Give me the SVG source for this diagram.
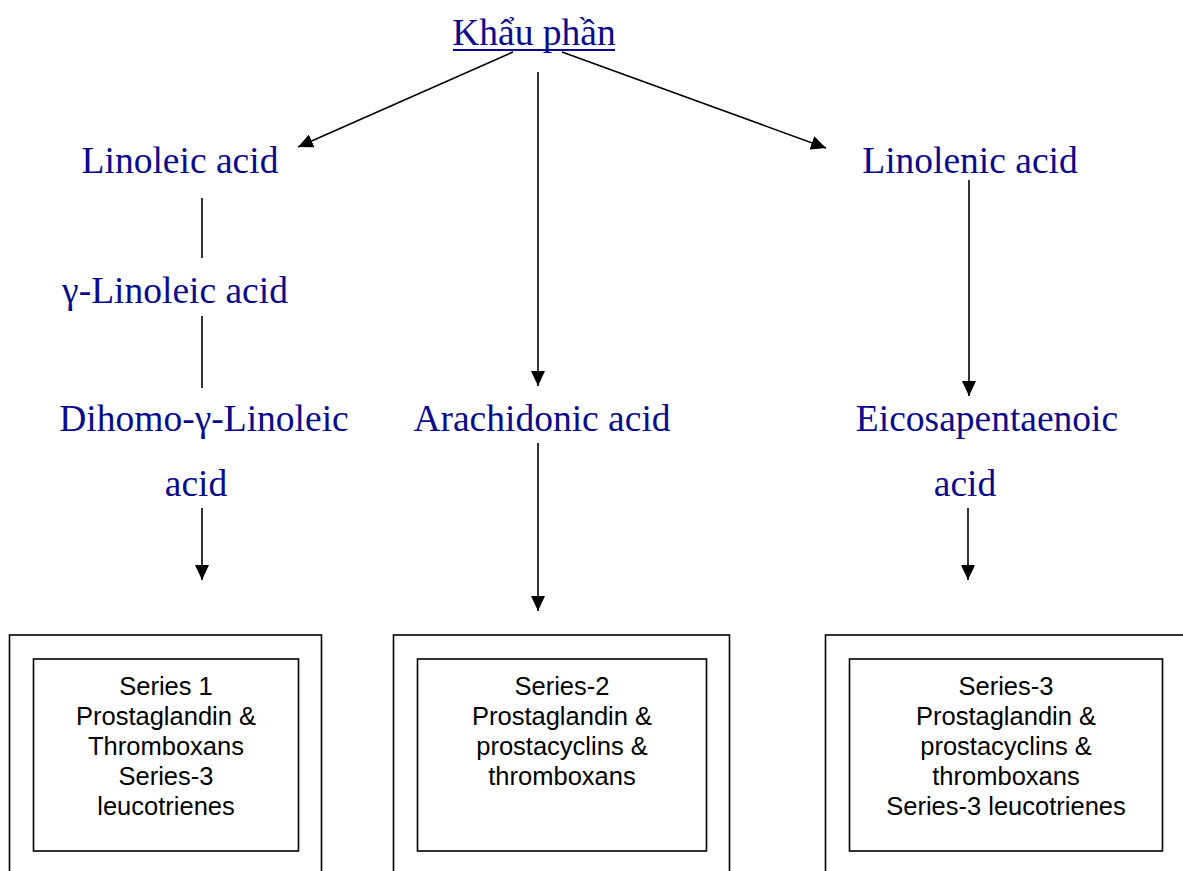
<svg xmlns="http://www.w3.org/2000/svg" width="1183" height="871" viewBox="0 0 1183 871">
<style>
.t{font-family:"Liberation Serif","Times New Roman",serif;font-size:37.5px;fill:#0a0a8c;text-anchor:middle}
.b{font-family:"Liberation Sans",Arial,sans-serif;font-size:25.5px;fill:#000;text-anchor:middle}
.ln{stroke:#000;stroke-width:1.6;fill:none}
.bx{stroke:#000;stroke-width:1.6;fill:#fff}
</style>
<defs>
<marker id="ah" viewBox="0 0 15 14" refX="15" refY="7" markerWidth="15" markerHeight="14" markerUnits="userSpaceOnUse" orient="auto">
<path d="M0,0 L15,7 L0,14 Z" fill="#000"/>
</marker>
</defs>
<rect width="1183" height="871" fill="#fff"/>
<g id="connectors">
<line class="ln" x1="513" y1="52" x2="298" y2="147" marker-end="url(#ah)"/>
<line class="ln" x1="562" y1="52" x2="826" y2="148" marker-end="url(#ah)"/>
<line class="ln" x1="538" y1="72" x2="538" y2="386" marker-end="url(#ah)"/>
<line class="ln" x1="202" y1="198" x2="202" y2="258"/>
<line class="ln" x1="202" y1="316" x2="202" y2="388"/>
<line class="ln" x1="202" y1="508" x2="202" y2="580" marker-end="url(#ah)"/>
<line class="ln" x1="538" y1="443" x2="538" y2="611" marker-end="url(#ah)"/>
<line class="ln" x1="969" y1="180" x2="969" y2="396" marker-end="url(#ah)"/>
<line class="ln" x1="968" y1="508" x2="968" y2="580" marker-end="url(#ah)"/>
</g>
<g id="title">
<text class="t" x="534" y="45">Khẩu phần</text>
<line x1="453" y1="50" x2="615" y2="50" stroke="#0a0a8c" stroke-width="2"/>
</g>
<g id="linoleic"><text class="t" x="180" y="173">Linoleic acid</text></g>
<g id="linolenic"><text class="t" x="970" y="173">Linolenic acid</text></g>
<g id="gamma"><text class="t" x="175" y="303">γ-Linoleic acid</text></g>
<g id="dihomo"><text class="t" x="204" y="431">Dihomo-γ-Linoleic</text><text class="t" x="196" y="496">acid</text></g>
<g id="arachidonic"><text class="t" x="542" y="431">Arachidonic acid</text></g>
<g id="epa"><text class="t" x="987" y="431">Eicosapentaenoic</text><text class="t" x="965" y="496">acid</text></g>
<g id="box1">
<rect class="bx" x="9.5" y="635" width="312" height="250"/>
<rect class="bx" x="33.5" y="659" width="265" height="192"/>
<text class="b" x="166" y="695">Series 1</text>
<text class="b" x="166" y="725">Prostaglandin &amp;</text>
<text class="b" x="166" y="755">Thromboxans</text>
<text class="b" x="166" y="785">Series-3</text>
<text class="b" x="166" y="815">leucotrienes</text>
</g>
<g id="box2">
<rect class="bx" x="393.5" y="635" width="336" height="250"/>
<rect class="bx" x="417.5" y="659" width="289" height="192"/>
<text class="b" x="562" y="695">Series-2</text>
<text class="b" x="562" y="725">Prostaglandin &amp;</text>
<text class="b" x="562" y="755">prostacyclins &amp;</text>
<text class="b" x="562" y="785">thromboxans</text>
</g>
<g id="box3">
<rect class="bx" x="825.5" y="635" width="370" height="250"/>
<rect class="bx" x="849.5" y="659" width="313" height="192"/>
<text class="b" x="1006" y="695">Series-3</text>
<text class="b" x="1006" y="725">Prostaglandin &amp;</text>
<text class="b" x="1006" y="755">prostacyclins &amp;</text>
<text class="b" x="1006" y="785">thromboxans</text>
<text class="b" x="1006" y="815">Series-3 leucotrienes</text>
</g>
</svg>
